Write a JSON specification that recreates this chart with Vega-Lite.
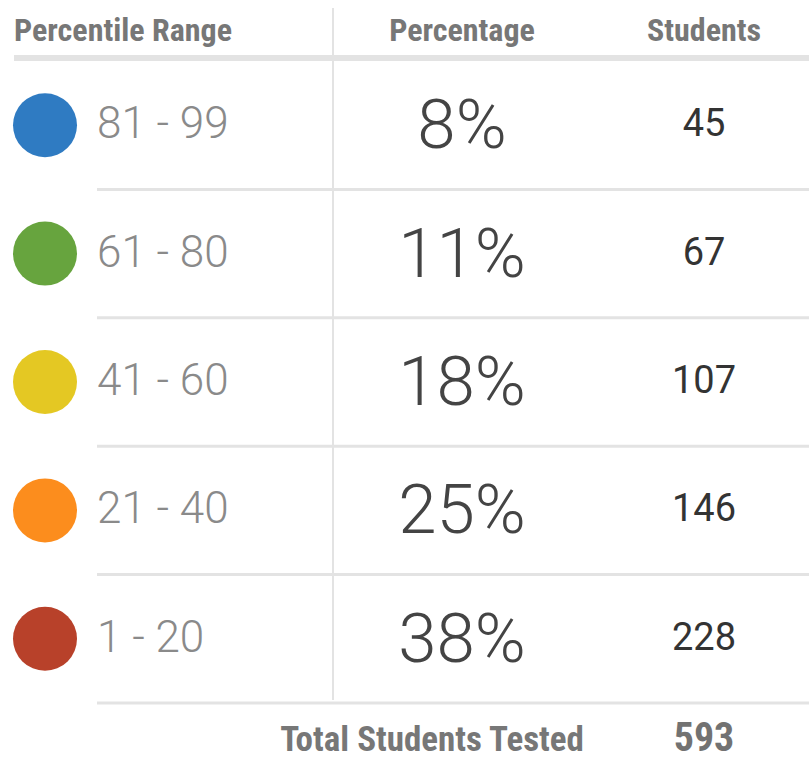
{
  "$schema": "https://vega.github.io/schema/vega-lite/v6.json",
  "width": 809,
  "height": 758,
  "padding": 0,
  "autosize": {"type": "none"},
  "background": "white",
  "config": {"view": {"stroke": null}, "axis": {"disable": true}},
  "datasets": {
    "rows": [
      {"range": "81 - 99", "pct": "8%", "students": 45, "color": "#2f7bc2"},
      {"range": "61 - 80", "pct": "11%", "students": 67, "color": "#67a43e"},
      {"range": "41 - 60", "pct": "18%", "students": 107, "color": "#e4c823"},
      {"range": "21 - 40", "pct": "25%", "students": 146, "color": "#fc8d1d"},
      {"range": "1 - 20", "pct": "38%", "students": 228, "color": "#b8412a"}
    ],
    "header": [
      {"label": "Percentile Range", "col": "range"},
      {"label": "Percentage", "col": "pct"},
      {"label": "Students", "col": "students"}
    ],
    "footer": [{"label": "Total Students Tested", "total": 593}]
  },
  "resolve": {"scale": {"y": "independent", "x": "shared"}},
  "layer": [
    {
      "data": {"values": [{}]},
      "mark": {"type": "rule", "color": "#e3e3e3", "strokeWidth": 6},
      "encoding": {
        "x": {"datum": 14, "type": "quantitative", "scale": {"domain": [0, 809], "range": [0, 809], "nice": false, "zero": false}},
        "x2": {"datum": 809},
        "y": {"datum": 58, "type": "quantitative", "scale": {"domain": [0, 758], "range": [0, 758], "nice": false, "zero": false}}
      }
    },
    {
      "data": {"values": [{}]},
      "mark": {"type": "rule", "color": "#e3e3e3", "strokeWidth": 2},
      "encoding": {
        "x": {"datum": 333, "type": "quantitative"},
        "y": {"datum": 8, "type": "quantitative", "scale": {"domain": [0, 758], "range": [0, 758], "nice": false, "zero": false}},
        "y2": {"datum": 700}
      }
    },
    {
      "data": {"name": "rows"},
      "mark": {"type": "rule", "color": "#e3e3e3", "strokeWidth": 3},
      "encoding": {
        "x": {"datum": 97, "type": "quantitative"},
        "x2": {"datum": 809},
        "y": {"field": "range", "type": "nominal", "bandPosition": 1, "sort": null, "scale": {"type": "band", "range": [61, 703], "paddingInner": 0, "paddingOuter": 0}}
      }
    },
    {
      "data": {"name": "rows"},
      "mark": {"type": "circle", "size": 4096, "opacity": 1},
      "encoding": {
        "x": {"datum": 45, "type": "quantitative"},
        "y": {"field": "range", "type": "nominal", "sort": null, "scale": {"type": "band", "range": [61, 703], "paddingInner": 0, "paddingOuter": 0}},
        "color": {"field": "color", "type": "nominal", "scale": null, "legend": null}
      }
    },
    {
      "data": {"name": "rows"},
      "mark": {"type": "text", "align": "left", "baseline": "middle", "font": "Roboto", "fontWeight": 300, "fontSize": 44, "color": "#8a8a8a"},
      "encoding": {
        "x": {"datum": 97, "type": "quantitative"},
        "y": {"field": "range", "type": "nominal", "sort": null, "scale": {"type": "band", "range": [61, 703], "paddingInner": 0, "paddingOuter": 0}},
        "text": {"field": "range"}
      }
    },
    {
      "data": {"name": "rows"},
      "mark": {"type": "text", "align": "center", "baseline": "middle", "font": "Roboto", "fontWeight": 300, "fontSize": 69, "color": "#444444", "dy": 2},
      "encoding": {
        "x": {"datum": 462, "type": "quantitative"},
        "y": {"field": "range", "type": "nominal", "sort": null, "scale": {"type": "band", "range": [61, 703], "paddingInner": 0, "paddingOuter": 0}},
        "text": {"field": "pct"}
      }
    },
    {
      "data": {"name": "rows"},
      "mark": {"type": "text", "align": "center", "baseline": "middle", "font": "Roboto", "fontWeight": 400, "fontSize": 38, "color": "#333333"},
      "encoding": {
        "x": {"datum": 704, "type": "quantitative"},
        "y": {"field": "range", "type": "nominal", "sort": null, "scale": {"type": "band", "range": [61, 703], "paddingInner": 0, "paddingOuter": 0}},
        "text": {"field": "students"}
      }
    },
    {
      "data": {"name": "header"},
      "transform": [{"filter": "datum.col === 'range'"}],
      "mark": {"type": "text", "align": "left", "baseline": "middle", "font": "'Roboto Condensed', 'Liberation Sans Narrow', 'DejaVu Sans Condensed', Roboto", "fontWeight": "bold", "fontSize": 32, "color": "#777777"},
      "encoding": {
        "x": {"datum": 14, "type": "quantitative"},
        "y": {"datum": 31, "type": "quantitative", "scale": {"domain": [0, 758], "range": [0, 758], "nice": false, "zero": false}},
        "text": {"field": "label"}
      }
    },
    {
      "data": {"name": "header"},
      "transform": [{"filter": "datum.col === 'pct'"}],
      "mark": {"type": "text", "align": "center", "baseline": "middle", "font": "'Roboto Condensed', 'Liberation Sans Narrow', 'DejaVu Sans Condensed', Roboto", "fontWeight": "bold", "fontSize": 32, "color": "#777777"},
      "encoding": {
        "x": {"datum": 462, "type": "quantitative"},
        "y": {"datum": 31, "type": "quantitative", "scale": {"domain": [0, 758], "range": [0, 758], "nice": false, "zero": false}},
        "text": {"field": "label"}
      }
    },
    {
      "data": {"name": "header"},
      "transform": [{"filter": "datum.col === 'students'"}],
      "mark": {"type": "text", "align": "center", "baseline": "middle", "font": "'Roboto Condensed', 'Liberation Sans Narrow', 'DejaVu Sans Condensed', Roboto", "fontWeight": "bold", "fontSize": 32, "color": "#777777"},
      "encoding": {
        "x": {"datum": 704, "type": "quantitative"},
        "y": {"datum": 31, "type": "quantitative", "scale": {"domain": [0, 758], "range": [0, 758], "nice": false, "zero": false}},
        "text": {"field": "label"}
      }
    },
    {
      "data": {"name": "footer"},
      "mark": {"type": "text", "align": "center", "baseline": "middle", "font": "'Roboto Condensed', 'Liberation Sans Narrow', 'DejaVu Sans Condensed', Roboto", "fontWeight": "bold", "fontSize": 35, "color": "#777777"},
      "encoding": {
        "x": {"datum": 432, "type": "quantitative"},
        "y": {"datum": 740, "type": "quantitative", "scale": {"domain": [0, 758], "range": [0, 758], "nice": false, "zero": false}},
        "text": {"field": "label"}
      }
    },
    {
      "data": {"name": "footer"},
      "mark": {"type": "text", "align": "center", "baseline": "middle", "font": "'Roboto Condensed', 'Liberation Sans Narrow', 'DejaVu Sans Condensed', Roboto", "fontWeight": "bold", "fontSize": 40, "color": "#727272"},
      "encoding": {
        "x": {"datum": 704, "type": "quantitative"},
        "y": {"datum": 739, "type": "quantitative", "scale": {"domain": [0, 758], "range": [0, 758], "nice": false, "zero": false}},
        "text": {"field": "total"}
      }
    }
  ]
}
